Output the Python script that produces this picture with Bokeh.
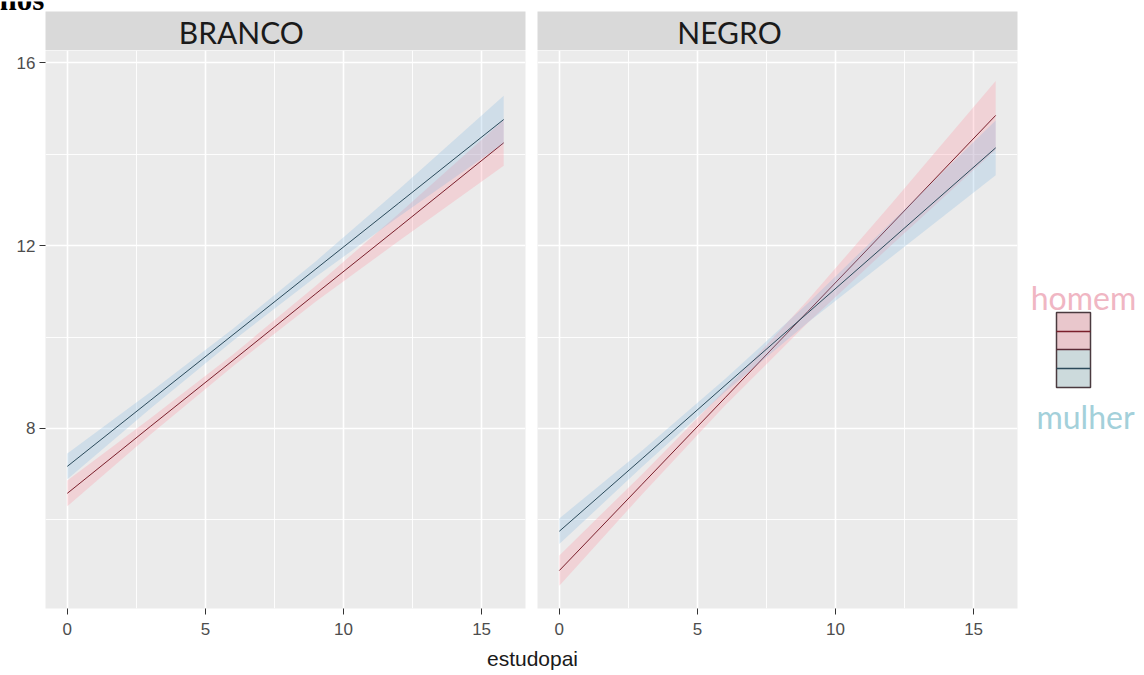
from bokeh.plotting import figure
from bokeh.models import Range1d, FixedTicker
from bokeh.layouts import row, column
from bokeh.core.properties import value
from bokeh.embed import file_html
from bokeh.resources import INLINE

# ---- data ----
facets = ["BRANCO", "NEGRO"]
groups = ["homem", "mulher"]
x_tick_labels = [0, 5, 10, 15]
y_tick_labels = [8, 12, 16]
estudopai = [0, 3, 6, 9, 12, 15.8]

branco_homem_fit = [6.58, 8.04, 9.49, 10.95, 12.40, 14.25]
branco_homem_low = [6.30, 7.86, 9.36, 10.78, 12.10, 13.75]
branco_homem_high = [6.86, 8.22, 9.62, 11.12, 12.70, 14.75]
branco_mulher_fit = [7.17, 8.61, 10.05, 11.49, 12.93, 14.76]
branco_mulher_low = [6.89, 8.43, 9.92, 11.32, 12.63, 14.24]
branco_mulher_high = [7.45, 8.79, 10.18, 11.66, 13.23, 15.28]

negro_homem_fit = [4.89, 6.78, 8.67, 10.56, 12.45, 14.85]
negro_homem_low = [4.56, 6.56, 8.50, 10.31, 12.00, 14.10]
negro_homem_high = [5.22, 7.00, 8.84, 10.81, 12.90, 15.60]
negro_mulher_fit = [5.75, 7.34, 8.94, 10.53, 12.12, 14.14]
negro_mulher_low = [5.47, 7.16, 8.80, 10.32, 11.74, 13.54]
negro_mulher_high = [6.03, 7.52, 9.08, 10.74, 12.50, 14.74]

series = {
    "BRANCO": {
        "homem": (branco_homem_fit, branco_homem_low, branco_homem_high),
        "mulher": (branco_mulher_fit, branco_mulher_low, branco_mulher_high),
    },
    "NEGRO": {
        "homem": (negro_homem_fit, negro_homem_low, negro_homem_high),
        "mulher": (negro_mulher_fit, negro_mulher_low, negro_mulher_high),
    },
}

# ---- styles ----
ribbon_color = {"homem": "#FF8A99", "mulher": "#7FB6E0"}
line_color = {"homem": "#7A1F2B", "mulher": "#2B4A5A"}
legend_text_color = {"homem": "#F0B6C3", "mulher": "#A3D0DA"}
PANEL_BG = "#EBEBEB"
STRIP_BG = "#D9D9D9"
TICK_FONT = "Liberation Sans"
STRIP_FONT = "Lato"

FRAME_W = 480
XR = (-0.79, 16.59)
YR = (4.06, 16.27)


def bare(fig):
    fig.axis.visible = False
    fig.grid.visible = False
    fig.outline_line_color = None
    fig.background_fill_color = "white"
    fig.border_fill_color = "white"
    return fig


def make_panel(facet, left_border, right_border, show_y):
    w = left_border + FRAME_W + right_border
    p = figure(width=w, height=594, x_range=Range1d(*XR), y_range=Range1d(*YR),
               output_backend="svg", toolbar_location=None,
               min_border_left=left_border, min_border_right=right_border,
               min_border_top=0, min_border_bottom=36)
    p.background_fill_color = PANEL_BG
    p.border_fill_color = "white"
    p.outline_line_color = None
    xt = FixedTicker(ticks=x_tick_labels, minor_ticks=[2.5, 7.5, 12.5])
    yt = FixedTicker(ticks=y_tick_labels, minor_ticks=[6, 10, 14])
    p.xaxis.ticker = xt
    p.yaxis.ticker = yt
    p.xgrid.ticker = xt
    p.ygrid.ticker = yt
    for g in (p.xgrid, p.ygrid):
        g.grid_line_color = "white"
        g.grid_line_width = 1.6
        g.minor_grid_line_color = "white"
        g.minor_grid_line_width = 0.9
    for ax in (p.xaxis, p.yaxis):
        ax.axis_line_color = None
        ax.major_tick_line_color = "#333333"
        ax.major_tick_out = 6
        ax.major_tick_in = 0
        ax.minor_tick_out = 0
        ax.minor_tick_in = 0
        ax.major_label_text_font = TICK_FONT
        ax.major_label_text_font_size = "17px"
        ax.major_label_text_color = "#4D4D4D"
    p.xaxis.major_label_standoff = 8
    p.yaxis.major_label_standoff = 4
    if not show_y:
        p.yaxis.visible = False
    for g in groups:
        fit, low, high = series[facet][g]
        p.varea(x=estudopai, y1=low, y2=high, fill_color=ribbon_color[g], fill_alpha=0.26)
        p.line(estudopai, fit, line_color=line_color[g], line_width=1)
    return p


def make_strip(facet, left_border, right_border, xpos):
    w = left_border + FRAME_W + right_border
    s = figure(width=w, height=39, x_range=Range1d(0, 1), y_range=Range1d(0, 1),
               output_backend="svg", toolbar_location=None,
               min_border_left=left_border, min_border_right=right_border,
               min_border_top=0, min_border_bottom=0)
    bare(s)
    s.background_fill_color = STRIP_BG
    s.text(x=[xpos], y=[0.48], text=[facet], text_font=value(STRIP_FONT),
           text_font_size="30px", text_color="#1A1A1A", text_align="center",
           text_baseline="middle")
    return s


# heading strip at the very top (the picture shows only the lower part of it)
header = bare(figure(width=1140, height=11, x_range=Range1d(0, 1140), y_range=Range1d(11, 0),
                     output_backend="svg", toolbar_location=None,
                     min_border_left=0, min_border_right=0, min_border_top=0, min_border_bottom=0))
header.text(x=[-1], y=[-2], text=["nos"], text_font=value("Liberation Serif"),
            text_font_style="bold", text_font_size="31px", text_color="#000000",
            text_align="left", text_baseline="middle")

p1 = make_panel("BRANCO", 45, 6, True)
p2 = make_panel("NEGRO", 6, 3, False)
s1 = make_strip("BRANCO", 45, 6, 0.408)
s2 = make_strip("NEGRO", 6, 3, 0.40)

# legend (custom layout in page pixel coordinates)
lg = bare(figure(width=120, height=633, x_range=Range1d(1020, 1140), y_range=Range1d(644, 11),
                 output_backend="svg", toolbar_location=None,
                 min_border_left=0, min_border_right=0, min_border_top=0, min_border_bottom=0))
lg.text(x=[1083], y=[297], text=["homem"], text_font=value(STRIP_FONT), text_font_size="32px",
        text_color=legend_text_color["homem"], text_align="center", text_baseline="middle")
lg.text(x=[1085], y=[416], text=["mulher"], text_font=value(STRIP_FONT), text_font_size="32px",
        text_color=legend_text_color["mulher"], text_align="center", text_baseline="middle")
lg.quad(left=[1056], right=[1090], top=[312], bottom=[349], fill_color="#E9C7CC", line_color=None)
lg.quad(left=[1056], right=[1090], top=[349], bottom=[387], fill_color="#CCDADC", line_color=None)
lg.quad(left=[1056], right=[1090], top=[312], bottom=[387], fill_color=None,
        line_color="#4A3A3F", line_width=1.5)
lg.segment(x0=[1056], y0=[349], x1=[1090], y1=[349], line_color="#5A2A35", line_width=1.5)
lg.segment(x0=[1056], y0=[331], x1=[1090], y1=[331], line_color=line_color["homem"], line_width=1.5)
lg.segment(x0=[1056], y0=[368], x1=[1090], y1=[368], line_color=line_color["mulher"], line_width=1.5)

# x axis title across both panels
xt_fig = bare(figure(width=1140, height=26, x_range=Range1d(0, 1140), y_range=Range1d(670, 644),
                     output_backend="svg", toolbar_location=None,
                     min_border_left=0, min_border_right=0, min_border_top=0, min_border_bottom=0))
xt_fig.text(x=[532], y=[658], text=["estudopai"], text_font=value(TICK_FONT),
            text_font_size="21px", text_color="#1A1A1A", text_align="center",
            text_baseline="middle")

layout = column(
    header,
    row(column(s1, p1, spacing=0), column(s2, p2, spacing=0), lg, spacing=0),
    xt_fig, spacing=0)

open("out.html", "w").write(file_html(layout, INLINE))
